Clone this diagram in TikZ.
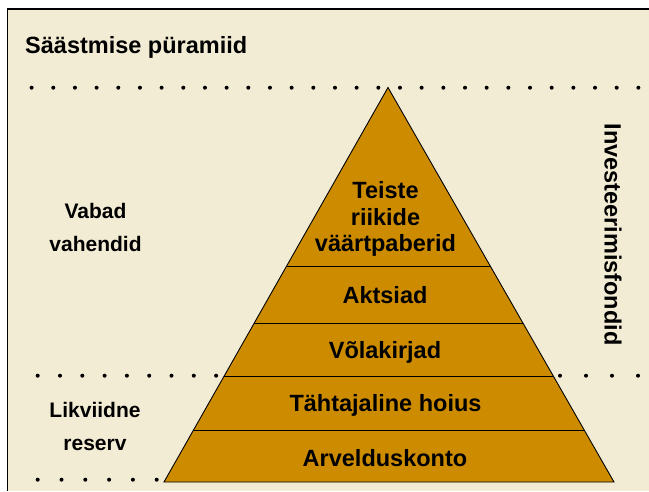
\documentclass[tikz,border=0pt]{standalone}
\usepackage{fontspec}
\setmainfont{Liberation Sans}
\usetikzlibrary{calc}
\definecolor{bgbeige}{RGB}{242,236,212}
\definecolor{pyrgold}{RGB}{205,140,0}
\begin{document}
\begin{tikzpicture}[x=1pt,y=-1pt,
  lbl/.style={font=\bfseries\fontsize{23.5}{26.7}\selectfont, align=center, inner sep=0pt},
  sidelbl/.style={font=\bfseries\fontsize{21}{33}\selectfont, align=center, inner sep=0pt},
  dotmark/.style={fill=black},
  bandline/.style={draw=black, line width=0.9pt}]
\useasboundingbox (0,0) rectangle (649,491);
\fill[white] (0,0) rectangle (649,491);
\fill[bgbeige] (7.5,9) rectangle (649,491);
\draw[line width=1.8pt] (7.5,491) -- (7.5,9) -- (649,9);

% title
\node[lbl, anchor=base west] (title) at (25,53.3) {Säästmise püramiid};

% dotted rows
\foreach \i in {0,...,28} \fill[dotmark] ({31.6+21.67*\i},87.7) circle (2);
\foreach \i in {0,...,8} \fill[dotmark] ({37.7+22.3*\i},375.7) circle (2);
\foreach \i in {0,...,3} \fill[dotmark] ({560+26*\i},375.7) circle (2);
\foreach \i in {0,...,5} \fill[dotmark] ({37.7+23.8*\i},479.7) circle (2);

% pyramid
\coordinate (apex) at (388,87.5);
\coordinate (bl) at (164,482);
\coordinate (br) at (614,482);
\fill[pyrgold] (apex) -- (br) -- (bl) -- cycle;
\foreach \t/\n in {0.4525/a,0.597/b,0.7313/c,0.8682/d}{
  \coordinate (l\n) at ($(apex)!\t!(bl)$);
  \coordinate (r\n) at ($(apex)!\t!(br)$);
  \draw[bandline] (l\n) -- (r\n);
}
\draw[line width=0.9pt, line join=miter] (apex) -- (br) -- (bl) -- cycle;

% pyramid labels
\node[lbl] (teiste) at (385.5,219) {Teiste\\riikide\\väärtpaberid};
\node[lbl, anchor=base] (aktsiad) at (385,303.3) {Aktsiad};
\node[lbl, anchor=base] (volakirjad) at (385,358.3) {Võlakirjad};
\node[lbl, anchor=base] (tahtajaline) at (385.5,411.7) {Tähtajaline hoius};
\node[lbl, anchor=base] (arveldus) at (385,466) {Arvelduskonto};

% side labels
\node[sidelbl] (vabad) at (95.5,227.7) {Vabad\\vahendid};
\node[sidelbl] (likviidne) at (95,426.3) {Likviidne\\reserv};
\node[lbl, rotate=-90] (invest) at (613,234.5) {Investeerimisfondid};
\end{tikzpicture}
\end{document}
